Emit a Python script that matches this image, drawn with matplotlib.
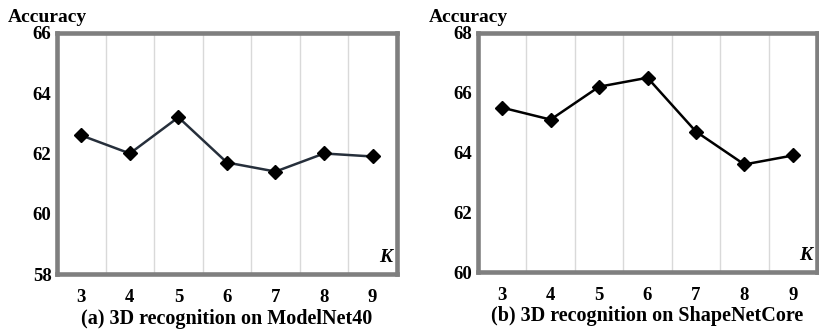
import matplotlib
matplotlib.use("Agg")
import matplotlib.pyplot as plt

k_values = [3, 4, 5, 6, 7, 8, 9]
acc_modelnet = [62.6, 62.0, 63.2, 61.7, 61.4, 62.0, 61.9]
acc_shapenet = [65.5, 65.1, 66.2, 66.5, 64.7, 63.6, 63.9]
yticks_modelnet = [58, 60, 62, 64, 66]
yticks_shapenet = [60, 62, 64, 66, 68]
captions = ["(a) 3D recognition on ModelNet40", "(b) 3D recognition on ShapeNetCore"]

plt.rcParams["font.family"] = ["Liberation Serif", "DejaVu Serif"]
plt.rcParams["font.weight"] = "bold"

fig = plt.figure(figsize=(8.19, 3.29), dpi=100)

paineis = [
    ([0.0696, 0.167, 0.415, 0.733], acc_modelnet, yticks_modelnet, "#262f3b", captions[0]),
    ([0.5836, 0.173, 0.414, 0.727], acc_shapenet, yticks_shapenet, "black", captions[1]),
]

for pos, valores, yticks, cor, legenda in paineis:
    ax = fig.add_axes(pos)
    ax.plot(k_values, valores, color=cor, linewidth=1.8, marker="D",
            markersize=7.5, markerfacecolor="black", markeredgecolor="black", zorder=3)
    ax.set_xlim(2.5, 9.5)
    ax.set_ylim(yticks[0], yticks[-1])
    ax.set_xticks(k_values)
    ax.set_yticks(yticks)
    ax.set_xticklabels([str(k) for k in k_values], fontsize=13.5, fontweight="bold")
    ax.set_yticklabels([str(t) for t in yticks], fontsize=13.5, fontweight="bold")
    ax.tick_params(axis="y", length=0, pad=4)
    ax.tick_params(axis="x", length=0, pad=10.5)
    # linhas verticais entre categorias
    for xb in [3.5, 4.5, 5.5, 6.5, 7.5, 8.5]:
        ax.axvline(xb, color="#d9d9d9", linewidth=1, zorder=1)
    for s in ax.spines.values():
        s.set_color("#7f7f7f")
        s.set_linewidth(3.3)
    ax.text(0.985, 0.035, "K", transform=ax.transAxes, ha="right", va="bottom",
            fontsize=14, fontweight="bold", fontstyle="italic")
    ax.text(-0.145, 1.03, "Accuracy", transform=ax.transAxes, ha="left", va="bottom",
            fontsize=14, fontweight="bold")
    ax.text(0.5, -0.185, legenda, transform=ax.transAxes, ha="center", va="center",
            fontsize=14.5, fontweight="bold")

fig.savefig("out.png", dpi=100)
plt.close(fig)
